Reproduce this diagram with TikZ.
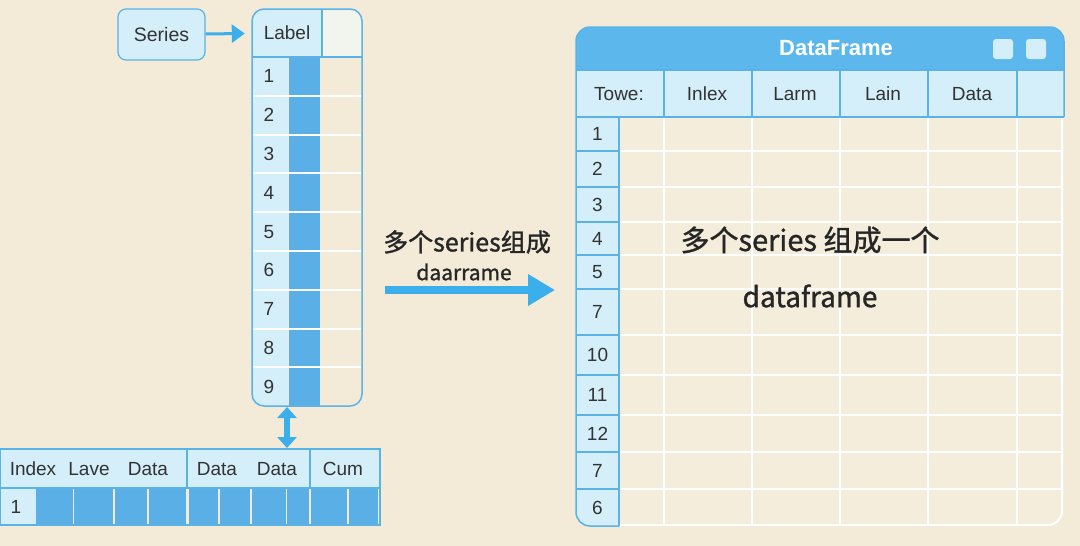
\documentclass[tikz,border=0pt]{standalone}
\usepackage{fontspec}
\setmainfont{Liberation Sans}
\newfontfamily\cjk{Noto Sans CJK SC}
\newfontfamily\cjkmid[UprightFeatures={FakeBold=1.2}]{Noto Sans CJK SC}
\usetikzlibrary{arrows.meta}
\definecolor{dfBg}{HTML}{F3EBD8}
\definecolor{dfGrid}{HTML}{F4EDDC}
\definecolor{dfLight}{HTML}{D4EEFA}
\definecolor{dfLine}{HTML}{5AB3E6}
\definecolor{dfBar}{HTML}{5AAFE6}
\definecolor{dfArrow}{HTML}{3AAFEC}
\definecolor{dfTitle}{HTML}{5CB8EC}
\definecolor{dfText}{HTML}{333333}

\begin{document}
\begin{tikzpicture}[x=1pt, y=-1pt,
	cell/.style={text=dfText, font=\fontsize{19}{21}\selectfont, inner sep=0pt},
	arr/.style={dfArrow, line width=3pt, -{Triangle[length=13pt, width=18pt]}}]
	% Canvas
	\useasboundingbox (0,0) rectangle (1080,546);
	\fill[dfBg] (0,0) rectangle (1080,546);
	
	% Series tag
	\node[draw=dfLine, line width=1.2pt, fill=dfLight, rounded corners=8pt,
	minimum width=87pt, minimum height=51pt, text=dfText, font=\fontsize{19.5}{21}\selectfont]
	(series) at (161.5,34.5) {Series};
	
	% Series column
	\begin{scope}
		\clip[rounded corners=12pt] (252,9) rectangle (362,406);
		\fill[dfLight] (252,9) rectangle (322,57);
		\fill[dfLight!30!dfBg!60!white] (322,9) rectangle (362,57);
		\fill[dfLight] (252,57) rectangle (288,406);
		\fill[dfBar] (289,57) rectangle (320,406);
	\end{scope}
	\foreach \i in {1,...,8}{
		\draw[white, line width=2pt] (252,{57+\i*38.8}) -- (361,{57+\i*38.8});
	}
	\draw[dfLine, line width=1.2pt] (252,57) -- (362,57) (322,9) -- (322,57);
	\draw[dfLine, line width=1.5pt, rounded corners=12pt] (252,9) rectangle (362,406);
	\node[cell, minimum width=70pt, minimum height=48pt] (labelhead) at (287,33) {Label};
	\foreach \n in {1,...,9}{
		\node[cell] (idx\n) at (269,{57+(\n-0.5)*38.8}) {\n};
	}
	\draw[arr, shorten >=7pt] (series) -- (labelhead);
	
	% Link column <-> row
	\coordinate (colfoot) at (287,407);
	\coordinate (tabtop) at (287,448);
	\draw[dfArrow, line width=6pt, {Triangle[length=11pt, width=19pt]}-{Triangle[length=11pt, width=19pt]}]
	(colfoot) -- (tabtop);
	
	% Row table
	\fill[dfLight] (0,449) rectangle (380,488);
	\fill[dfLight] (0,488) rectangle (36,525);
	\foreach \a/\b in {36/73,74/113,115/147,149/186,189/218,220/250,252/286,287/309,311/347,349/378}{
		\fill[dfBar] (\a,489) rectangle (\b,524);
	}
	\draw[dfLine, line width=1.5pt] (0,449) rectangle (380,525);
	\draw[dfLine, line width=1.2pt] (0,488) -- (380,488) (187,449) -- (187,488) (310,449) -- (310,488);
	\foreach \x/\t [count=\k] in {33/Index, 89/Lave, 148/Data, 217/Data, 277/Data, 343/Cum}{
		\node[cell] (rowhead\k) at (\x,469) {\t};
	}
	\node[cell] (rowidx) at (16,507) {1};
	
	% Middle caption and arrow
	\node[text=black!85, font=\cjkmid\fontsize{25}{27}\selectfont] (midtop) at (467,242) {多个series组成};
	\node[text=black!85, font=\cjkmid\fontsize{21}{23}\selectfont] (midbot) at (464,272) {daarrame};
	\coordinate (midfrom) at (385,290);
	\coordinate (midto) at (555,290);
	\draw[dfArrow, line width=8pt, -{Triangle[length=27pt, width=30pt]}] (midfrom) -- (midto);
	
	% DataFrame window
	\begin{scope}
		\clip[rounded corners=14pt] (576,27) rectangle (1064,526);
		\fill[dfGrid] (576,27) rectangle (1064,526);
		\fill[dfTitle] (576,27) rectangle (1064,70);
		\fill[dfLight] (576,70) rectangle (1064,117);
		\fill[dfLight] (576,117) rectangle (619,526);
	\end{scope}
	
	% Grid lines
	\foreach \y in {151,187,222,255,289,335,375,415,452,489}{
		\draw[white, line width=2pt] (619,\y) -- (1062,\y);
		\draw[dfLine, line width=1.2pt] (576,\y) -- (619,\y);
	}
	\foreach \x in {664,752,840,928,1017}{
		\draw[white, line width=2pt] (\x,117) -- (\x,525);
		\draw[dfLine, line width=1.2pt] (\x,70) -- (\x,117);
	}
	\draw[white, line width=2pt, rounded corners=14pt] (619,525) -- (1062,525) -- (1062,117);
	\draw[dfLine, line width=1.2pt] (576,70) -- (1064,70) (576,117) -- (1064,117) (619,117) -- (619,526);
	\draw[dfLine, line width=1.5pt, rounded corners=14pt] (619,526) -- (576,526) -- (576,27) -- (1064,27) -- (1064,117);
	
	% Title bar
	\node[text=white, font=\fontsize{22}{24}\selectfont\bfseries] (dftitle) at (836,48) {DataFrame};
	\foreach \x [count=\k] in {1003,1036}{
		\node[fill=dfLight, rounded corners=3pt, minimum size=20pt, inner sep=0pt] (btn\k) at (\x,49) {};
	}
	
	% Header cells
	\foreach \x/\t [count=\k] in {619/Towe:, 707/Inlex, 795/Larm, 883/Lain, 972/Data}{
		\node[cell] (dfhead\k) at (\x,94) {\t};
	}
	
	% Row numbers
	\foreach \a/\b/\t [count=\k] in {117/151/1, 151/187/2, 187/222/3, 222/255/4, 255/289/5, 289/335/7,
		335/375/10, 375/415/11, 415/452/12, 452/489/7, 489/526/6}{
		\node[cell] (dfrow\k) at (597.5,{(\a+\b)/2}) {\t};
	}
	
	% Caption inside the frame
	\node[text=black!85, font=\cjkmid\fontsize{29}{31}\selectfont] (capone) at (810,240) {多个series 组成一个};
	\node[text=black!85, font=\cjkmid\fontsize{28}{30}\selectfont] (captwo) at (810,296) {dataframe};
\end{tikzpicture}
\end{document}
